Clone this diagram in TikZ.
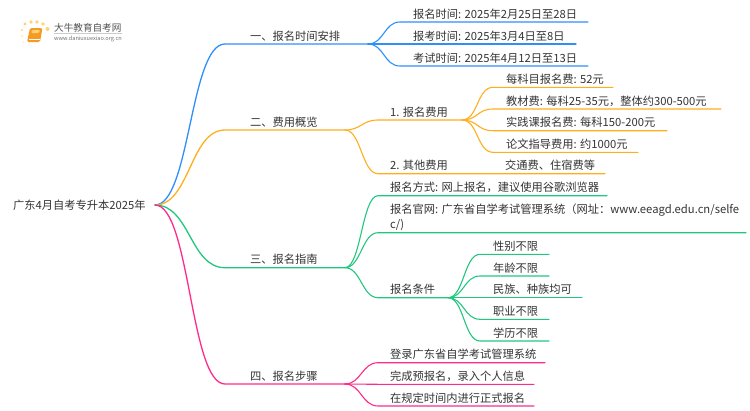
\documentclass[tikz,border=0pt]{standalone}
\usepackage{fontspec}
\setmainfont{Noto Sans CJK SC}
\usepackage{xcolor}
\usepackage{tikz}
\usetikzlibrary{positioning,calc}
\definecolor{MapBlue}{HTML}{2E8FFA}
\definecolor{MapOrange}{HTML}{FFAE1F}
\definecolor{MapGreen}{HTML}{22C77F}
\definecolor{MapPink}{HTML}{FF2A8A}
\definecolor{MapText}{HTML}{333333}
\definecolor{LogoOrange}{HTML}{F59A23}
\definecolor{LogoDot}{HTML}{FFD27A}
\tikzset{
  topic/.style={anchor=base west,inner sep=0pt,align=left,text=MapText,font=\fontsize{11.25}{15}\selectfont},
  mainline/.style={line width=1.3pt,line cap=round},
  subline/.style={line width=1.1pt,line cap=round},
}

\begin{document}
\begin{tikzpicture}[x=1pt,y=-1pt]
  \useasboundingbox (0,0) rectangle (750,410);
  % logo
  \foreach \x/\y/\r/\o in {25/24/1.6/1,31/22/1.8/1,37/22/1.8/1,43/24/1.8/1,47.5/29/2/1,22/30/1.3/.7,22/36/1.2/.5,23.5/42/1/.35}
    \fill[LogoDot,opacity=\o] (\x,\y) circle (\r);
  \fill[LogoOrange,rounded corners=1.5pt] (30,28) -- (42.5,28) -- (40,42) -- (27,42) -- cycle;
  \fill[LogoDot,rounded corners=1pt] (32,30) -- (40,30) -- (39,33) -- (31.2,33) -- cycle;
  \draw[white,line width=.5pt] (28.5,39.5) -- (39.5,39.5);
  \node[topic,text=MapText!85,font=\fontsize{9.6}{11}\selectfont] (logoname) at (54,31) {大牛教育自考网};
  \draw[black!20,line width=.5pt] (54,33.5) -- (122,33.5);
  \node[topic,text=MapText!70,font=\fontsize{5.6}{6}\selectfont] (logourl) at (54,40.5) {www.daniuxuexiao.org.cn};
  % root
  \node[topic] (root) at (13,209) {广东4月自考专升本2025年};
  \coordinate (rootout) at (155,205);
  % first level
  \foreach \nm/\y/\xe/\col/\txt in {secA/44/368/MapBlue/一、报名时间安排,secB/130/345/MapOrange/二、费用概览,secC/267.7/345/MapGreen/三、报名指南,secD/384/345/MapPink/四、报名步骤}{
    \node[topic] (\nm) at (250,\y-4) {\txt};
    \coordinate (\nm hub) at (\xe,\y);
    \draw[\col,mainline] (rootout) .. controls +(35,0) and +(-35,0) .. (225,\y) -- (\nm hub);
  }
  % dates
  \foreach \nm/\y/\xe/\txt in {dateA/22/588/报名时间: 2025年2月25日至28日,dateB/44/576/报考时间: 2025年3月4日至8日,dateC/66/588/考试时间: 2025年4月12日至13日}{
    \node[topic] (\nm) at (413,\y-4) {\txt};
    \draw[MapBlue,subline] (secAhub) .. controls +(16,0) and +(-16,0) .. (400,\y) -- (\xe,\y);
  }
  % fees
  \node[topic] (feeA) at (390,116) {1. 报名费用};
  \coordinate (feeAhub) at (462,120);
  \draw[MapOrange,subline] (secBhub) .. controls +(16,0) and +(-16,0) .. (378,120) -- (feeAhub);
  \foreach \nm/\y/\xe/\txt in {itemA/87.3/613/每科目报名费: 52元,itemB/109/721/{教材费: 每科25-35元，整体约300-500元},itemC/130.7/667/实践课报名费: 每科150-200元,itemD/152.3/638/论文指导费用: 约1000元}{
    \node[topic] (\nm) at (506,\y-4) {\txt};
    \draw[MapOrange,subline] (feeAhub) .. controls +(16,0) and +(-16,0) .. (493,\y) -- (\xe,\y);
  }
  \node[topic] (feeB) at (390,169.7) {2. 其他费用};
  \node[topic] (feeBitem) at (505,169.7) {交通费、住宿费等};
  \draw[MapOrange,subline] (secBhub) .. controls +(16,0) and +(-16,0) .. (378,173.7) -- (605,173.7);
  % guide
  \foreach \nm/\y/\ty/\xe/\txt in {guideA/195.7/191.7/607/{报名方式: 网上报名，建议使用谷歌浏览器},guideB/232.7/228.7/746/{报名官网: 广东省自学考试管理系统（网址：www.eeagd.edu.cn/selfe\\c/)},guideC/297.7/293.7/448/报名条件}{
    \node[topic] (\nm) at (390,\ty) {\txt};
    \draw[MapGreen,subline] (secChub) .. controls +(16,0) and +(-16,0) .. (378,\y) -- (\xe,\y);
  }
  \coordinate (guideChub) at (448,297.7);
  \foreach \nm/\y/\xe/\txt in {condA/254.3/549/性别不限,condB/276/549/年龄不限,condC/297.7/582/民族、种族均可,condD/319.3/549/职业不限,condE/341/549/学历不限}{
    \node[topic] (\nm) at (493,\y-4) {\txt};
    \draw[MapGreen,subline] (guideChub) .. controls +(16,0) and +(-16,0) .. (480,\y) -- (\xe,\y);
  }
  % steps
  \foreach \nm/\y/\xe/\txt in {stepA/362.7/545/登录广东省自学考试管理系统,stepB/384.3/534/{完成预报名，录入个人信息},stepC/406/534/在规定时间内进行正式报名}{
    \node[topic] (\nm) at (390,\y-4) {\txt};
    \draw[MapPink,subline] (secDhub) .. controls +(16,0) and +(-16,0) .. (378,\y) -- (\xe,\y);
  }
\end{tikzpicture}
\end{document}
